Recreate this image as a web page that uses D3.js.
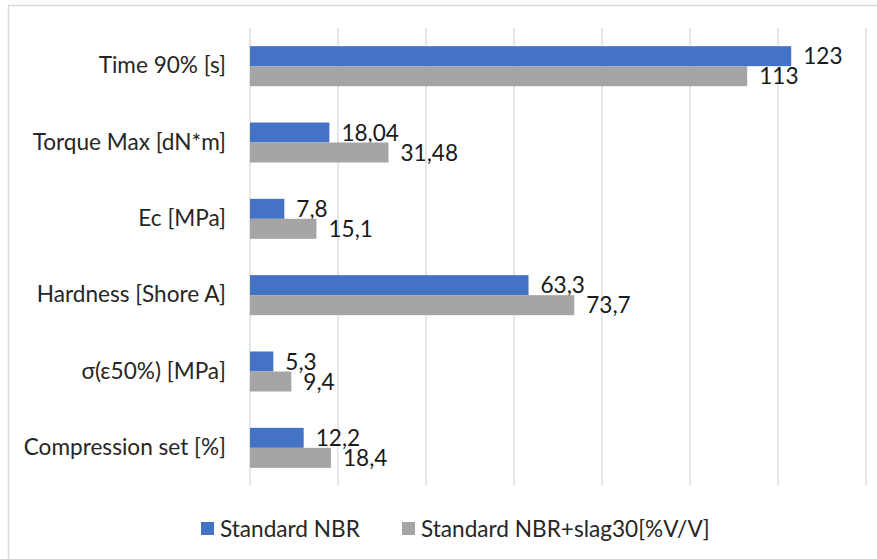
<!DOCTYPE html>
<html><head><meta charset="utf-8">
<script src="https://cdn.jsdelivr.net/npm/d3@7"></script>
<style>html,body{margin:0;padding:0;background:#fff;} svg{display:block;}</style>
</head><body>
<script>
const categories = ["Time 90% [s]", "Torque Max [dN*m]", "Ec [MPa]", "Hardness [Shore A]", "σ(ε50%) [MPa]", "Compression set [%]"];
const seriesNames = ["Standard NBR", "Standard NBR+slag30[%V/V]"];
const standardNBR = [123, 18.04, 7.8, 63.3, 5.3, 12.2];
const slagNBR = [113, 31.48, 15.1, 73.7, 9.4, 18.4];
const labelsNBR = ["123", "18,04", "7,8", "63,3", "5,3", "12,2"];
const labelsSlag = ["113", "31,48", "15,1", "73,7", "9,4", "18,4"];
const xTicks = [0, 20, 40, 60, 80, 100, 120, 140];
const colors = ["#4472C4", "#A5A5A5"];

const W = 877, H = 559;
const font = "Lato, 'Open Sans', sans-serif";
const fs = 22.6;
const svg = d3.select("body").append("svg").attr("width", W).attr("height", H);

// chart border
svg.append("rect").attr("x", 8.5).attr("y", 5.5).attr("width", W + 10).attr("height", H + 10)
  .attr("fill", "none").attr("stroke", "#d9d9d9").attr("stroke-width", 1.5);

const x = d3.scaleLinear().domain([0, 140]).range([250, 866]);
const y = d3.scaleBand().domain(categories).range([28, 486]).paddingInner(0.476).paddingOuter(0.238);
const ySub = d3.scaleBand().domain([0, 1]).range([0, y.bandwidth()]);

// gridlines
svg.append("g").selectAll("line").data(xTicks).join("line")
  .attr("x1", d => x(d)).attr("x2", d => x(d)).attr("y1", 28).attr("y2", 486)
  .attr("stroke", "#d9d9d9").attr("stroke-width", 1.3);

// category labels
const yAxis = d3.axisLeft(y).tickSize(0).tickPadding(0);
const ga = svg.append("g").attr("transform", "translate(226,0)").call(yAxis);
ga.select(".domain").remove();
ga.selectAll("text").attr("font-family", font).attr("font-size", fs).attr("fill", "#262626");

const series = [standardNBR, slagNBR];
const labels = [labelsNBR, labelsSlag];
series.forEach((vals, s) => {
  const g = svg.append("g");
  g.selectAll("rect").data(vals).join("rect")
    .attr("x", x(0)).attr("y", (d, i) => y(categories[i]) + ySub(s))
    .attr("width", d => x(d) - x(0)).attr("height", ySub.bandwidth())
    .attr("fill", colors[s]);
  g.selectAll("text").data(vals).join("text")
    .attr("x", d => x(d) + 12).attr("y", (d, i) => y(categories[i]) + ySub(s) + ySub.bandwidth() / 2)
    .attr("dy", "0.36em")
    .attr("font-family", font).attr("font-size", fs).attr("fill", "#1a1a1a")
    .text((d, i) => labels[s][i]);
});

// legend
const legendPos = [201, 402];
const lg = svg.append("g");
seriesNames.forEach((n, i) => {
  lg.append("rect").attr("x", legendPos[i]).attr("y", 522).attr("width", 13).attr("height", 13).attr("fill", colors[i]);
  lg.append("text").attr("x", legendPos[i] + 19).attr("y", 528.5).attr("dy", "0.36em")
    .attr("font-family", font).attr("font-size", fs).attr("fill", "#262626").text(n);
});
</script>
</body></html>
